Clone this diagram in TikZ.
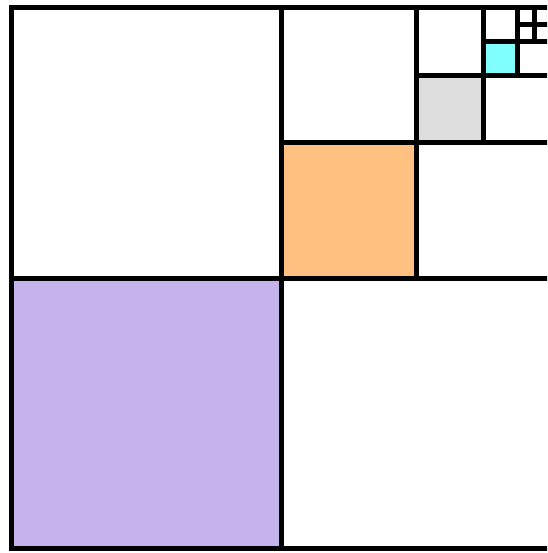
\documentclass[tikz,border=0pt]{standalone}
\definecolor{qpurple}{HTML}{C5B3EB}
\definecolor{qorange}{HTML}{FFC080}
\definecolor{qgray}{HTML}{DDDDDD}
\definecolor{qcyan}{HTML}{80FFFF}

\begin{document}
\begin{tikzpicture}[
    x=1pt,y=-1pt,
    grid/.style={draw=black,line width=5pt},
    quarter/.style={draw=none}
]
\clip (0,0) rectangle (547,553);
\fill[white] (0,0) rectangle (547,553);

% Coloured lower-left quarters of each level
\foreach \k/\col in {0/qpurple,1/qorange,2/qgray,3/qcyan}{
    \pgfmathsetmacro{\side}{540/2^\k}
    \pgfmathsetmacro{\half}{\side/2}
    \pgfmathsetmacro{\left}{551-\side}
    \fill[\col] (\left,8+\half) rectangle (\left+\half,8+\side);
}

% Outer square
\draw[grid] (11,8) rectangle (551,548);

% Cross lines of each level
\foreach \k in {0,...,4}{
    \pgfmathsetmacro{\side}{540/2^\k}
    \pgfmathsetmacro{\half}{\side/2}
    \pgfmathsetmacro{\left}{551-\side}
    \draw[grid] (\left+\half,8) -- (\left+\half,8+\side);
    \draw[grid] (\left,8+\half) -- (551,8+\half);
}

\end{tikzpicture}
\end{document}
